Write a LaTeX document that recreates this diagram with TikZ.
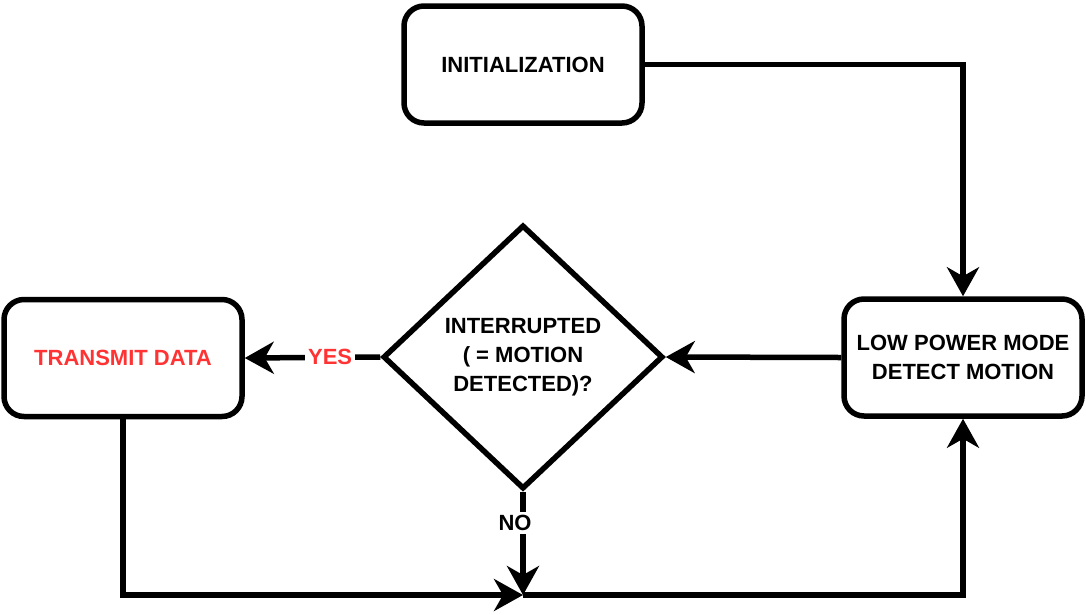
\documentclass[tikz,border=0pt]{standalone}
\usepackage{fontspec}
\setmainfont{Liberation Sans}
\usetikzlibrary{shapes.geometric,arrows.meta}
\definecolor{txtred}{HTML}{FF3333}

\begin{document}
\begin{tikzpicture}[x=1pt,y=-1pt,line width=5.5pt,
    every node/.style={font=\bfseries\fontsize{22}{29}\selectfont},
    box/.style={draw,rounded corners=20pt,minimum width=238pt,minimum height=117pt,align=center},
    decision/.style={draw,diamond,inner sep=0pt,minimum width=280pt,minimum height=264pt,align=center},
    arr/.style={-{Stealth[length=29pt,width=32pt,inset=9pt]}},
    lbl/.style={fill=white,inner sep=3pt}]
    \useasboundingbox (0,0) rectangle (1086,614);
    % states
    \node[box] (init) at (523,64.5) {INITIALIZATION};
    \node[box] (lpm) at (963,357.5) {LOW POWER MODE\\DETECT MOTION};
    \node[box,text=txtred] (tx) at (123,358) {TRANSMIT DATA};
    \node[decision] (irq) at (523,357) {INTERRUPTED\\( = MOTION\\DETECTED)?};
    \coordinate (join) at (523,595);
    % transitions
    \draw[arr] (init.east) -| (lpm.north);
    \draw[arr] (lpm.west) -- (irq.east);
    \draw[arr] (irq.west) -- node[lbl,text=txtred,pos=0.37] {YES} (tx.east);
    \draw[arr] (irq.south) -- node[lbl,pos=0.3,xshift=-8pt] {NO} (join);
    \draw[arr] (tx.south) |- (join);
    \draw[arr] (join) -| (lpm.south);
\end{tikzpicture}
\end{document}
